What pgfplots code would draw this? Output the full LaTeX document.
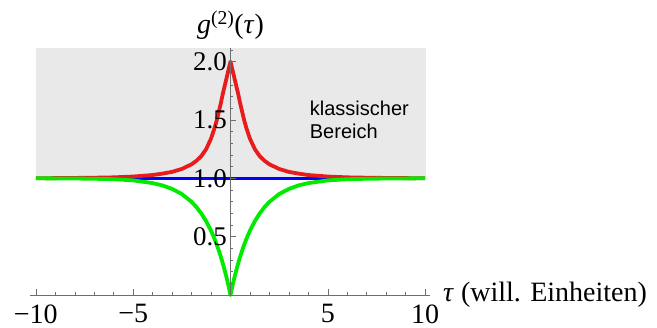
\documentclass[border=0pt]{standalone}
\usepackage{fontspec}
\setmainfont{Liberation Serif}
\newfontfamily\arial{Liberation Sans}
\usepackage{pgfplots}
\pgfplotsset{compat=1.18}
\definecolor{bereich}{RGB}{233,233,233}
\definecolor{kurvered}{RGB}{232,28,28}
\definecolor{kurvegreen}{RGB}{0,235,0}
\definecolor{kurveblue}{RGB}{0,0,255}
\definecolor{achse}{RGB}{110,110,110}

\begin{document}
\begin{tikzpicture}
\useasboundingbox (-30pt,-33pt) rectangle (627pt,295pt);
\begin{axis}[
	scale only axis,
	width=400pt, height=247.4pt,
	xmin=-10.3, xmax=10.25,
	ymin=0, ymax=2.12,
	axis lines=middle,
	axis line style={achse, line width=0.6pt, -},
	axis on top,
	clip=false,
	xtick={-10,-5,5,10}, xticklabels={−10,−5,5,10},
	minor xtick={-9,...,9},
	ytick={0.5,1,1.5,2}, yticklabels={0.5,1.0,1.5,2.0},
	minor ytick={0.1,0.2,...,2.1},
	tick align=inside,
	major tick length=6pt, minor tick length=3pt,
	tick style={achse, line width=0.5pt},
	yticklabel style={font=\fontsize{27}{30}\selectfont},
	xticklabel style={font=\fontsize{28}{30}\selectfont, yshift=-6pt},
	]
% classical region
\addplot[draw=none, fill=bereich] coordinates {(-10,1) (10.05,1) (10.05,2.12) (-10,2.12)};
% coherent light
\addplot[kurveblue, line width=3.2pt] coordinates {(-10,1) (10,1)};
% thermal light
\addplot[kurvered, line width=3.8pt, line join=round] coordinates {
	(-10,1.000) (-8,1.003) (-7,1.005) (-6,1.008) (-5,1.015) (-4,1.028) (-3.5,1.040)
	(-3,1.055) (-2.5,1.080) (-2,1.120) (-1.75,1.150) (-1.5,1.190) (-1.25,1.250)
	(-1,1.340) (-0.9,1.390) (-0.8,1.440) (-0.7,1.500) (-0.6,1.570) (-0.5,1.640)
	(-0.4,1.720) (-0.3,1.790) (-0.2,1.860) (-0.1,1.930) (0,2.000)
	(0.1,1.930) (0.2,1.860) (0.3,1.790) (0.4,1.720) (0.5,1.640) (0.6,1.570)
	(0.7,1.500) (0.8,1.440) (0.9,1.390) (1,1.340) (1.25,1.250) (1.5,1.190)
	(1.75,1.150) (2,1.120) (2.5,1.080) (3,1.055) (3.5,1.040) (4,1.028)
	(5,1.015) (6,1.008) (7,1.005) (8,1.003) (10,1.000)};
% antibunched light
\addplot[kurvegreen, line width=3.8pt, line join=round] coordinates {
	(-10,1.000) (-8,0.998) (-7,0.996) (-6,0.992) (-5,0.982) (-4,0.959) (-3.5,0.939)
	(-3,0.909) (-2.5,0.865) (-2,0.798) (-1.75,0.753) (-1.5,0.699) (-1.25,0.632)
	(-1,0.551) (-0.9,0.513) (-0.8,0.473) (-0.7,0.429) (-0.6,0.381) (-0.5,0.330)
	(-0.4,0.274) (-0.3,0.213) (-0.2,0.148) (-0.1,0.077) (0,0.000)
	(0.1,0.077) (0.2,0.148) (0.3,0.213) (0.4,0.274) (0.5,0.330) (0.6,0.381)
	(0.7,0.429) (0.8,0.473) (0.9,0.513) (1,0.551) (1.25,0.632) (1.5,0.699)
	(1.75,0.753) (2,0.798) (2.5,0.865) (3,0.909) (3.5,0.939) (4,0.959)
	(5,0.982) (6,0.992) (7,0.996) (8,0.998) (10,1.000)};
\node[anchor=base west, inner sep=0pt, font=\arial\fontsize{20}{24}\selectfont]
	at (axis cs:4.07,1.542) {klassischer};
\node[anchor=base west, inner sep=0pt, font=\arial\fontsize{20}{24}\selectfont]
	at (axis cs:4.07,1.345) {Bereich};
\node[anchor=center, yshift=22pt, font=\fontsize{28}{30}\selectfont]
	at (axis cs:0,2.12) {\textit{g}\textsuperscript{(2)}(\textit{τ})};
\node[anchor=base west, inner sep=0pt, xshift=13pt, yshift=-7pt, font=\fontsize{28}{30}\selectfont]
	at (axis cs:10.25,0) {\textit{τ} (will. Einheiten)};
\end{axis}
\end{tikzpicture}
\end{document}
